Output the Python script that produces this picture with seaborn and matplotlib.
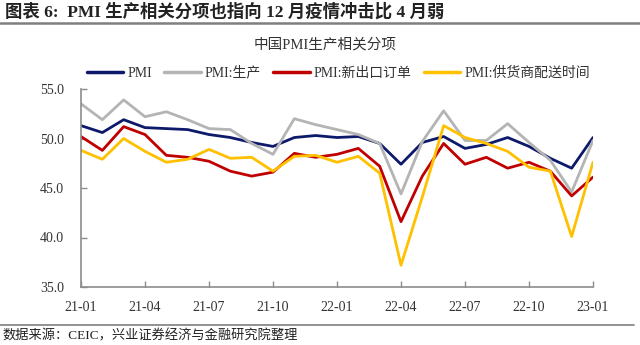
import matplotlib
matplotlib.use("Agg")
import matplotlib.pyplot as plt
import seaborn as sns
import pandas as pd
from matplotlib.lines import Line2D

# Monthly observations, 2021-01 .. 2023-01
months = ["21-01", "21-02", "21-03", "21-04", "21-05", "21-06", "21-07", "21-08",
          "21-09", "21-10", "21-11", "21-12", "22-01", "22-02", "22-03", "22-04",
          "22-05", "22-06", "22-07", "22-08", "22-09", "22-10", "22-11", "22-12",
          "23-01"]
pmi = [51.3, 50.6, 51.9, 51.1, 51.0, 50.9, 50.4, 50.1, 49.6, 49.2, 50.1, 50.3,
       50.1, 50.2, 49.5, 47.4, 49.6, 50.2, 49.0, 49.4, 50.1, 49.2, 48.0, 47.0, 50.1]
production = [53.5, 51.9, 53.9, 52.2, 52.7, 51.9, 51.0, 50.9, 49.5, 48.4, 52.0, 51.4,
              50.9, 50.4, 49.5, 44.4, 49.7, 52.8, 49.8, 49.8, 51.5, 49.6, 47.8, 44.6, 49.8]
export_orders = [50.2, 48.8, 51.2, 50.4, 48.3, 48.1, 47.7, 46.7, 46.2, 46.6, 48.5, 48.1,
                 48.4, 49.0, 47.2, 41.6, 46.2, 49.5, 47.4, 48.1, 47.0, 47.6, 46.7, 44.2, 46.1]
delivery_time = [48.8, 47.9, 50.0, 48.7, 47.6, 47.9, 48.9, 48.0, 48.1, 46.7, 48.2, 48.3,
                 47.6, 48.2, 46.5, 37.2, 44.1, 51.3, 50.1, 49.5, 48.7, 47.1, 46.7, 40.1, 47.6]

series_names = ["PMI", "PMI:生产", "PMI:新出口订单", "PMI:供货商配送时间"]
series_values = [pmi, production, export_orders, delivery_time]
colors = ["#0D1A6B", "#B4B4B4", "#C00000", "#FFC000"]

xtick_labels = ["21-01", "21-04", "21-07", "21-10", "22-01", "22-04", "22-07", "22-10", "23-01"]
yticks = [35.0, 40.0, 45.0, 50.0, 55.0]

rows = []
for name, vals in zip(series_names, series_values):
    for i, (m, v) in enumerate(zip(months, vals)):
        rows.append({"idx": i, "month": m, "series": name, "value": v})
df = pd.DataFrame(rows)

sns.set_theme(style="white")
plt.rcParams["font.family"] = ["Liberation Serif", "Noto Sans CJK SC", "DejaVu Sans"]
plt.rcParams["axes.unicode_minus"] = False

fig = plt.figure(figsize=(6.4, 3.45), dpi=100)
ax = fig.add_axes([81 / 640, 1 - 287 / 345, 512 / 640, 198 / 345])

sns.lineplot(data=df, x="idx", y="value", hue="series", hue_order=series_names,
             palette=colors, linewidth=2.0, ax=ax, legend=False)

ax.set_xlim(0, len(months) - 1)
ax.set_ylim(35, 55)
ax.set_yticks(yticks)
ax.set_yticklabels([f"{t:.1f}" for t in yticks])
tick_pos = [months.index(t) for t in xtick_labels]
ax.set_xticks(tick_pos)
ax.set_xticklabels(xtick_labels)
ax.set_xlabel("")
ax.set_ylabel("")

for side in ["top", "right"]:
    ax.spines[side].set_visible(False)
for side in ["left", "bottom"]:
    ax.spines[side].set_color("#8C8C8C")
    ax.spines[side].set_linewidth(1.2)
ax.tick_params(axis="both", direction="in", length=4, width=1, color="#8C8C8C",
               labelsize=10, labelcolor="#333333")
ax.tick_params(axis="y", left=True, pad=12)
ax.tick_params(axis="x", bottom=True, pad=10)

# Legend row
handles = [Line2D([0], [0], color=c, lw=2.5) for c in colors]
fig.legend(handles, series_names, loc="center", bbox_to_anchor=(0.529, 1 - 73 / 345),
           ncol=4, frameon=False, fontsize=10, handlelength=2.6, columnspacing=0.9,
           handletextpad=0.3, labelcolor="#333333")

# Chart subtitle
fig.text(0.508, 1 - 45 / 345, "中国PMI生产相关分项", ha="center", va="center",
         fontsize=10.5, color="#333333")

# Header and footer
fig.text(0.008, 1 - 12 / 345, "图表 6:  PMI 生产相关分项也指向 12 月疫情冲击比 4 月弱",
         ha="left", va="center", fontsize=12.5, fontweight="bold", color="#222222")
fig.add_artist(Line2D([0, 1], [1 - 23 / 345, 1 - 23 / 345], color="#7F7F7F", lw=1.8,
                      transform=fig.transFigure))
fig.add_artist(Line2D([0, 0.99], [1 - 325 / 345, 1 - 325 / 345], color="#7F7F7F", lw=1.2,
                      transform=fig.transFigure))
fig.text(0.004, 1 - 336 / 345, "数据来源：CEIC，兴业证券经济与金融研究院整理",
         ha="left", va="center", fontsize=9.5, color="#222222")

fig.savefig("out.png", dpi=100)
